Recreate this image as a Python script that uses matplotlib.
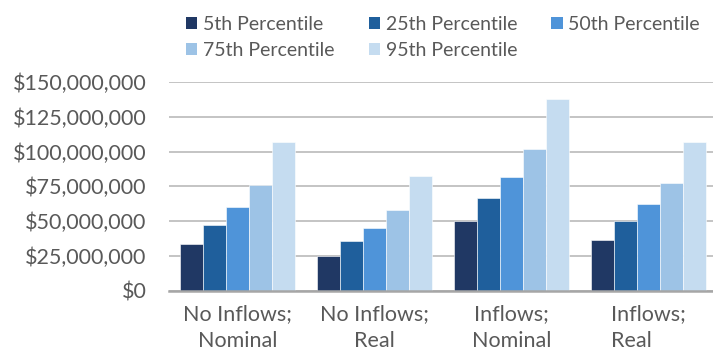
import numpy as np
import matplotlib
matplotlib.use("Agg")
import matplotlib.pyplot as plt
from matplotlib.patches import Patch
from matplotlib.ticker import FuncFormatter, MultipleLocator

plt.rcParams["font.family"] = ["Lato", "DejaVu Sans"]

scenarios = ["No Inflows;\nNominal", "No Inflows;\nReal", "Inflows;\nNominal", "Inflows;\nReal"]
percentiles = ["5th Percentile", "25th Percentile", "50th Percentile",
               "75th Percentile", "95th Percentile"]

p5 = [33.8e6, 24.7e6, 49.9e6, 36.2e6]
p25 = [47.4e6, 35.5e6, 66.6e6, 49.9e6]
p50 = [59.9e6, 44.8e6, 81.9e6, 62.1e6]
p75 = [75.9e6, 57.8e6, 101.6e6, 77.2e6]
p95 = [106.8e6, 82.4e6, 137.5e6, 107.0e6]

colors = ["#203864", "#1F5F9C", "#4F94D9", "#9DC3E6", "#C5DCF0"]
text_gray = "#595959"

fig = plt.figure(figsize=(7.13, 3.54), dpi=100)
W, H = 713, 354
ax = fig.add_axes([169 / W, (H - 290.7) / H, 548 / W, (290.7 - 82) / H])

x = np.arange(len(scenarios))
bw = 1 / 6
series = [p5, p25, p50, p75, p95]
for i, (vals, c) in enumerate(zip(series, colors)):
    ax.bar(x + (i - 2) * bw, vals, width=bw, color=c, edgecolor="white",
           linewidth=0.4, zorder=3)

ax.set_xlim(-0.5, 3.5)
ax.set_ylim(0, 150e6)
ax.yaxis.set_major_locator(MultipleLocator(25e6))
ax.yaxis.set_major_formatter(FuncFormatter(lambda v, _: f"${v:,.0f}"))
ax.grid(axis="y", color="#BFBFBF", linewidth=1.3, zorder=0)
for s in ["top", "right", "left"]:
    ax.spines[s].set_visible(False)
ax.spines["bottom"].set_color("#A6A6A6")
ax.spines["bottom"].set_linewidth(1.8)
ax.spines["bottom"].set_zorder(4)
ax.tick_params(axis="y", length=0, pad=16, labelsize=15.5, labelcolor=text_gray)
ax.tick_params(axis="x", length=0, pad=10, labelsize=15.5, labelcolor=text_gray)

ax.set_xticks(x)
ax.set_xticklabels(scenarios, linespacing=1.4)
# last label keeps its second line flush left under the first
ax.get_xticklabels()[-1].set_multialignment("left")

# legend is filled column by column, so reorder to read across rows
order = [0, 3, 1, 4, 2]
handles = [Patch(facecolor=colors[i], edgecolor="none") for i in order]
labels = [percentiles[i] for i in order]
fig.legend(handles, labels, ncol=3, loc="upper left",
           bbox_to_anchor=(186 / W, 1 - 16 / H), frameon=False,
           fontsize=14, labelcolor=text_gray, handlelength=0.59,
           handleheight=0.59, handletextpad=0.29, columnspacing=1.75,
           labelspacing=0.46, borderpad=0, borderaxespad=0)

fig.savefig("out.png", dpi=100)
